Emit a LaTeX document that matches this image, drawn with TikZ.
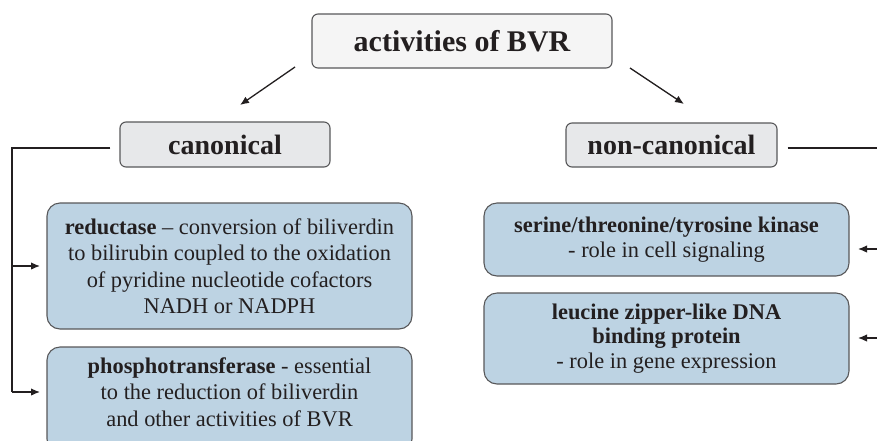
\documentclass[tikz,border=0pt]{standalone}
\usepackage{fontspec}
\setmainfont{Liberation Serif}
\usetikzlibrary{arrows.meta}

\definecolor{boxblue}{RGB}{189,211,227}
\definecolor{boxgrey}{RGB}{231,232,234}
\definecolor{boxwhite}{RGB}{245,245,245}
\definecolor{edgegrey}{RGB}{88,88,90}
\definecolor{inkgrey}{RGB}{35,31,32}

\tikzset{
  headbox/.style={draw=edgegrey, line width=1.1pt, rounded corners=6pt, fill=boxgrey,
    inner sep=0pt, text=inkgrey, font=\fontsize{28}{32}\selectfont\bfseries},
  actbox/.style={draw=edgegrey, line width=1.1pt, rounded corners=13pt, fill=boxblue,
    inner sep=0pt, minimum width=365pt, align=center, text=inkgrey},
  lefttext/.style={font=\fontsize{22.4}{26.5}\selectfont},
  righttext/.style={font=\fontsize{22.4}{24.5}\selectfont},
  link/.style={draw=inkgrey, line width=1.3pt},
  linkarrow/.style={link, -{Latex[length=9pt,width=7.5pt]}}
}

\begin{document}
\begin{tikzpicture}[x=1pt,y=-1pt]
\clip (0,0) rectangle (877,440);
\fill[white] (0,0) rectangle (877,440);
% heading boxes
\node[headbox, fill=boxwhite, minimum width=300pt, minimum height=54pt,
  font=\fontsize{30}{34}\selectfont\bfseries] (bvr) at (462,41) {activities of BVR};
\node[headbox, minimum width=210pt, minimum height=45pt] (canon) at (225,144.5) {canonical};
\node[headbox, minimum width=211pt, minimum height=44pt] (noncanon) at (671.5,145) {non-canonical};
% activity boxes
\node[actbox, lefttext, minimum height=126pt] (reduct) at (229.5,266)
  {\textbf{reductase} -- conversion of biliverdin\\
   to bilirubin coupled to the oxidation\\
   of pyridine nucleotide cofactors\\
   NADH or NADPH};
\node[actbox, minimum height=105pt] (phosbox) at (229.5,399.5) {};
\node[align=center, text=inkgrey, lefttext] (phos) at (229.5,392)
  {\textbf{phosphotransferase} - essential\\
   to the reduction of biliverdin\\
   and other activities of BVR};
\node[actbox, righttext, minimum height=73pt] (kinase) at (666.5,239.5)
  {\textbf{serine/threonine/tyrosine kinase}\\
   - role in cell signaling};
\node[actbox, righttext, minimum height=91pt] (zipper) at (666.5,338.5)
  {\textbf{leucine zipper-like DNA}\\
   \textbf{binding protein}\\
   - role in gene expression};
% free ends of the connectors
\coordinate (bvrl) at (295,67);
\coordinate (canonin) at (240,105);
\coordinate (bvrr) at (630,68);
\coordinate (noncanonin) at (684,104);
\coordinate (lbend) at (12,148);
\coordinate (lfoot) at (12,392);
\coordinate (redin) at (40,266);
\coordinate (phosin) at (40,392);
\coordinate (redge) at (877,148);
\coordinate (kinout) at (877,249);
\coordinate (kinin) at (858,249);
\coordinate (zipout) at (877,338);
\coordinate (zipin) at (858,338);
% connectors
\draw[linkarrow] (bvrl) -- (canonin);
\draw[linkarrow] (bvrr) -- (noncanonin);
\draw[link] ([xshift=-9pt]canon.west |- lbend) -- (lbend) -- (lfoot);
\draw[linkarrow] (lbend |- redin) -- (redin);
\draw[linkarrow] (lfoot) -- (phosin);
\draw[link] ([xshift=10pt]noncanon.east |- redge) -- (redge);
\draw[linkarrow] (kinout) -- (kinin);
\draw[linkarrow] (zipout) -- (zipin);
\end{tikzpicture}
\end{document}
